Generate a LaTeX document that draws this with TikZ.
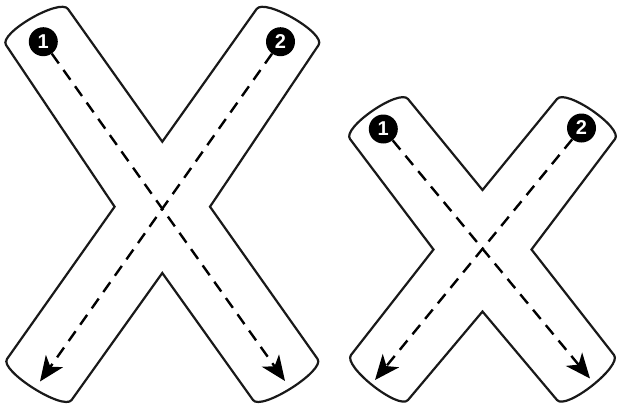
\documentclass[tikz,border=0pt]{standalone}
\usepackage{fontspec}
\setmainfont{Liberation Sans}
\usetikzlibrary{calc,arrows.meta}
\tikzset{
  outline/.style={draw=black!90, line width=2.2pt, line join=miter},
  dashline/.style={draw=black, line width=2.4pt, dash pattern=on 12pt off 8pt,
    -{Stealth[length=25pt,width=21pt,inset=7pt]}},
  numc/.style={circle, fill=black, text=white, minimum size=29pt, inner sep=0pt,
    font=\fontsize{20}{20}\selectfont\bfseries},
}
\newcommand{\kk}{14pt}
\newcommand{\xshape}[1]{%
  \draw[outline] (#1P1) .. controls ($(#1P1)!-\kk!(#1N4)$) and ($(#1P2)!-\kk!(#1N1)$) .. (#1P2)
    -- (#1N1) -- (#1P3) .. controls ($(#1P3)!-\kk!(#1N1)$) and ($(#1P4)!-\kk!(#1N2)$) .. (#1P4)
    -- (#1N2) -- (#1P5) .. controls ($(#1P5)!-\kk!(#1N2)$) and ($(#1P6)!-\kk!(#1N3)$) .. (#1P6)
    -- (#1N3) -- (#1P7) .. controls ($(#1P7)!-\kk!(#1N3)$) and ($(#1P8)!-\kk!(#1N4)$) .. (#1P8)
    -- (#1N4) -- cycle;}
\begin{document}
\begin{tikzpicture}[x=1pt,y=-1pt]
\useasboundingbox (0,0) rectangle (618,410);
% big X
\coordinate (aP1) at (6,45);
\coordinate (aP2) at (68,9);
\coordinate (aN1) at (162.3,141.7);
\coordinate (aP3) at (256.6,9);
\coordinate (aP4) at (318.6,45);
\coordinate (aN2) at (210,206.7);
\coordinate (aP5) at (317.6,359);
\coordinate (aP6) at (253,400);
\coordinate (aN3) at (162.3,273);
\coordinate (aP7) at (71.6,400);
\coordinate (aP8) at (7,359);
\coordinate (aN4) at (114.6,206.7);
\xshape{a}
% small X
\coordinate (bP1) at (350,139);
\coordinate (bP2) at (408,99);
\coordinate (bN1) at (482.5,190);
\coordinate (bP3) at (557,99);
\coordinate (bP4) at (615,139);
\coordinate (bN2) at (531.5,249.5);
\coordinate (bP5) at (614,355);
\coordinate (bP6) at (557,400);
\coordinate (bN3) at (482.5,311.5);
\coordinate (bP7) at (408,400);
\coordinate (bP8) at (351,355);
\coordinate (bN4) at (433.5,249.5);
\xshape{b}
% markers
\node[numc] (a1) at (43.3,41.7) {1};
\node[numc] (a2) at (280.5,41.7) {2};
\node[numc] (b1) at (383.3,129) {1};
\node[numc] (b2) at (581.5,128) {2};
\coordinate (at1) at (285,381);
\coordinate (at2) at (40,381.5);
\coordinate (bt1) at (590,378.5);
\coordinate (bt2) at (375,380);
\draw[dashline] (a1) -- (at1);
\draw[dashline] (a2) -- (at2);
\draw[dashline] (b1) -- (bt1);
\draw[dashline] (b2) -- (bt2);
\end{tikzpicture}
\end{document}
